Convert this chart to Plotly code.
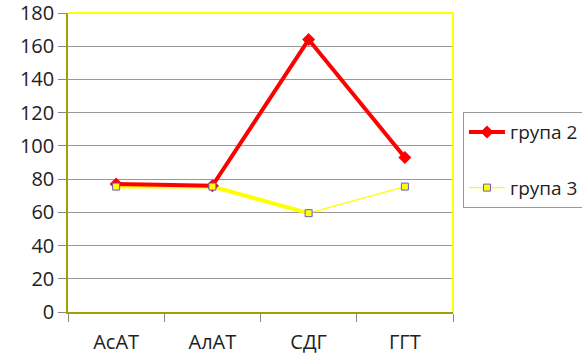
import plotly.graph_objects as go

categories = ["АсАТ", "АлАТ", "СДГ", "ГГТ"]
group2 = [77, 76, 164, 93]
group3 = [75.5, 75.5, 59.5, 75.5]
y_ticks = [0, 20, 40, 60, 80, 100, 120, 140, 160, 180]

fig = go.Figure()

# yellow line: thick first part, thin last segment
fig.add_trace(go.Scatter(x=categories[:3], y=group3[:3], mode="lines",
                         line=dict(color="#ffff00", width=4), showlegend=False, hoverinfo="skip"))
fig.add_trace(go.Scatter(x=categories[2:], y=group3[2:], mode="lines",
                         line=dict(color="#ffff00", width=1.2), showlegend=False, hoverinfo="skip"))

fig.add_trace(go.Scatter(x=categories, y=group2, mode="lines+markers", name="група 2",
                         line=dict(color="#ff0000", width=4),
                         marker=dict(symbol="diamond", size=10, color="#ff0000"),
                         legendgroup="g2", legendrank=1))

fig.add_trace(go.Scatter(x=categories, y=group3, mode="markers", name="група 3",
                         marker=dict(symbol="square", size=7, color="#ffff00",
                                     line=dict(color="#6a5acd", width=1)),
                         legendgroup="g3", legendrank=2, showlegend=False))
fig.add_trace(go.Scatter(x=[None], y=[None], mode="lines+markers", name="група 3",
                         line=dict(color="#ffff00", width=1.2),
                         marker=dict(symbol="square", size=7, color="#ffff00",
                                     line=dict(color="#6a5acd", width=1)),
                         legendgroup="g3", legendrank=2))

fig.update_layout(
    width=582, height=358,
    margin=dict(l=68, r=129, t=13, b=46),
    paper_bgcolor="white", plot_bgcolor="white",
    font=dict(family="Open Sans, Liberation Sans, sans-serif", size=19, color="#222"),
    showlegend=True,
    legend=dict(xref="container", yref="container", x=0.7955, y=0.687,
                xanchor="left", yanchor="top",
                bordercolor="#999", borderwidth=1, bgcolor="white",
                font=dict(size=19), tracegroupgap=28, traceorder="grouped",
                itemwidth=36),
    xaxis=dict(type="category", categoryorder="array", categoryarray=categories,
               range=[-0.5, 3.5], showgrid=False, showline=True, linecolor="#a0a000",
               linewidth=1.5, ticks="outside", tickson="boundaries", ticklen=8,
               tickcolor="#888", tickfont=dict(size=20), automargin=False,
               ticklabelstandoff=11),
    yaxis=dict(range=[0, 180], tickvals=y_ticks, showgrid=True, gridcolor="#999",
               gridwidth=1, showline=True, linecolor="#a0a000", linewidth=1.5,
               ticks="outside", ticklen=8, tickcolor="#888", zeroline=False,
               tickfont=dict(size=20), automargin=False, ticklabeloverflow="allow"),
    shapes=[
        dict(type="line", xref="paper", yref="paper", x0=0, x1=1, y0=1, y1=1,
             line=dict(color="#ffff00", width=2)),
        dict(type="line", xref="paper", yref="paper", x0=1, x1=1, y0=0, y1=1,
             line=dict(color="#ffff00", width=2)),
    ],
)

fig.write_html("out.html")
